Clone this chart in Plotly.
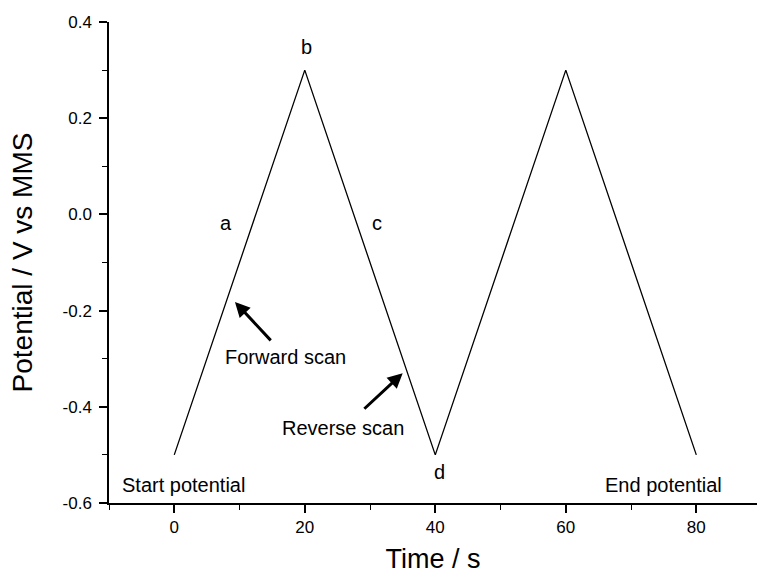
import plotly.graph_objects as go

# Data
time_s = [0, 20, 40, 60, 80]
potential_v = [-0.5, 0.3, -0.5, 0.3, -0.5]

y_tick_vals = [-0.6, -0.4, -0.2, 0.0, 0.2, 0.4]
y_tick_text = ["-0.6", "-0.4", "-0.2", "0.0", "0.2", "0.4"]
x_tick_vals = [0, 20, 40, 60, 80]
x_tick_text = ["0", "20", "40", "60", "80"]

labels_text = ["a", "b", "c", "d", "Forward scan", "Reverse scan", "Start potential", "End potential"]
labels_x = [8.0, 20.2, 31.0, 40.7, 17.0, 25.8, 1.4, 74.9]
labels_y = [-0.018, 0.348, -0.018, -0.536, -0.296, -0.444, -0.563, -0.563]

arrows_head_x = [9.3, 35.0]
arrows_head_y = [-0.182, -0.330]
arrows_tail_x = [15.0, 28.9]
arrows_tail_y = [-0.265, -0.407]

FONT = "Liberation Sans, Arial, sans-serif"

fig = go.Figure()
fig.add_trace(go.Scatter(x=time_s, y=potential_v, mode="lines",
                         line=dict(color="black", width=1.3), showlegend=False,
                         hoverinfo="skip"))

for t, x, y in zip(labels_text, labels_x, labels_y):
    fig.add_annotation(x=x, y=y, text=t, showarrow=False,
                       font=dict(family=FONT, size=20, color="black"))

for hx, hy, tx, ty in zip(arrows_head_x, arrows_head_y, arrows_tail_x, arrows_tail_y):
    fig.add_annotation(x=hx, y=hy, ax=tx, ay=ty, xref="x", yref="y", axref="x", ayref="y",
                       text="", showarrow=True, arrowhead=2, arrowsize=1.0,
                       arrowwidth=3, arrowcolor="black")

fig.update_layout(
    width=758, height=574,
    margin=dict(l=109, r=1, t=22, b=71),
    paper_bgcolor="white", plot_bgcolor="white",
    font=dict(family=FONT, color="black"),
    xaxis=dict(range=[-10, 89.3], showgrid=False, zeroline=False,
               showline=True, linecolor="black", linewidth=1.5, mirror=False,
               ticks="outside", ticklen=8, tickwidth=1.5, tickcolor="black",
               tickvals=x_tick_vals, ticktext=x_tick_text,
               tickfont=dict(size=17, family=FONT),
               minor=dict(ticks="outside", ticklen=5, tickwidth=1.2, tickcolor="black",
                          tickvals=[-10, 10, 30, 50, 70], showgrid=False),
               title=dict(text="Time / s", font=dict(size=27, family=FONT), standoff=18)),
    yaxis=dict(range=[-0.6, 0.4], showgrid=False, zeroline=False,
               showline=True, linecolor="black", linewidth=1.5, mirror=False,
               ticks="outside", ticklen=8, tickwidth=1.5, tickcolor="black",
               tickvals=y_tick_vals, ticktext=y_tick_text,
               tickfont=dict(size=17, family=FONT),
               minor=dict(ticks="outside", ticklen=5, tickwidth=1.2, tickcolor="black",
                          tickvals=[-0.5, -0.3, -0.1, 0.1, 0.3], showgrid=False),
               ticklabelstandoff=4,
               title=dict(text="Potential / V vs MMS", font=dict(size=28, family=FONT), standoff=22)),
)

fig.write_html("out.html", config={"displayModeBar": False},
               post_script="document.body.style.margin='0';")
